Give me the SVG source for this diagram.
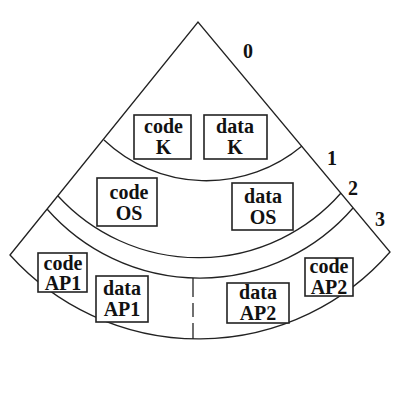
<svg xmlns="http://www.w3.org/2000/svg" width="400" height="400" viewBox="0 0 400 400">
<style>
.ln{fill:none;stroke:#222;stroke-width:1.3}
.bx{fill:#fff;stroke:#222;stroke-width:1.6}
.t{font-family:"Liberation Serif","Times New Roman",serif;font-weight:bold;font-size:20px;fill:#111;text-anchor:middle}
.n{font-family:"Liberation Serif","Times New Roman",serif;font-weight:bold;font-size:20px;fill:#111}
</style>
<rect width="400" height="400" fill="#fff"/>
<g id="cone">
<path class="ln" d="M10,255 L198,22 L390,252 A254 254 0 0 1 10,255 Z"/>
<path class="ln" d="M104,140 A149 149 0 0 0 302,146"/>
<path class="ln" d="M58,196 A190 190 0 0 0 341,193"/>
<path class="ln" d="M47,209 A203 203 0 0 0 353,208"/>
<g id="divider">
<line class="ln" x1="193" y1="278" x2="193" y2="297"/>
<line class="ln" x1="193" y1="303" x2="193" y2="317"/>
<line class="ln" x1="193" y1="323" x2="193" y2="339"/>
</g>
</g>
<g id="labels">
<text class="n" x="243" y="58">0</text>
<text class="n" x="327" y="165">1</text>
<text class="n" x="348" y="195">2</text>
<text class="n" x="375" y="226">3</text>
</g>
<g id="codeK"><rect class="bx" x="134" y="115" width="57" height="44"/><text class="t" x="163.5" y="133">code</text><text class="t" x="163.5" y="154">K</text></g>
<g id="dataK"><rect class="bx" x="204" y="115" width="63" height="44"/><text class="t" x="235" y="133">data</text><text class="t" x="235" y="154">K</text></g>
<g id="codeOS"><rect class="bx" x="97" y="178" width="60" height="48"/><text class="t" x="129" y="199">code</text><text class="t" x="129" y="220">OS</text></g>
<g id="dataOS"><rect class="bx" x="232" y="183" width="61" height="47"/><text class="t" x="263" y="203">data</text><text class="t" x="263" y="224">OS</text></g>
<g id="codeAP1"><rect class="bx" x="38" y="253" width="49" height="39"/><text class="t" x="63" y="270">code</text><text class="t" x="63" y="290">AP1</text></g>
<g id="dataAP1"><rect class="bx" x="96" y="276" width="52" height="46"/><text class="t" x="122" y="295">data</text><text class="t" x="122" y="316">AP1</text></g>
<g id="dataAP2"><rect class="bx" x="227" y="283" width="62" height="40"/><text class="t" x="258" y="299">data</text><text class="t" x="258" y="320">AP2</text></g>
<g id="codeAP2"><rect class="bx" x="305" y="258" width="48" height="38"/><text class="t" x="329" y="273">code</text><text class="t" x="329" y="294">AP2</text></g>
</svg>
